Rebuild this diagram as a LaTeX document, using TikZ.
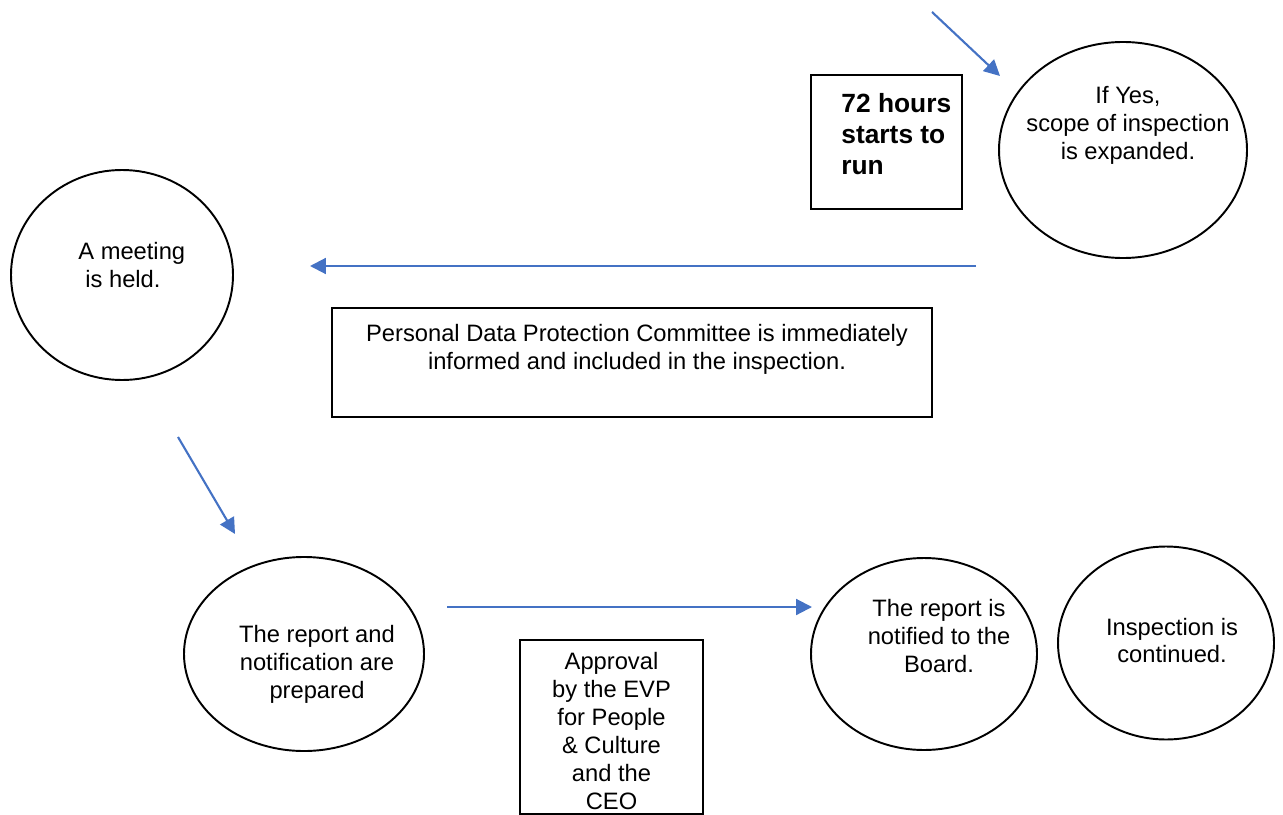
\documentclass[tikz,border=0pt]{standalone}
\usepackage{fontspec}
\setmainfont{Liberation Sans}
\usetikzlibrary{arrows.meta, shapes.geometric}
\definecolor{flowblue}{HTML}{4472C4}

\begin{document}
\begin{tikzpicture}[x=0.02cm, y=-0.02cm,
  box/.style={draw, rectangle, line width=1.1pt, inner sep=0pt},
  bubble/.style={draw, ellipse, line width=1.1pt, inner sep=0pt},
  txt/.style={font=\fontsize{13.5}{15.9}\selectfont, align=center, inner sep=0pt},
  flow/.style={draw=flowblue, line width=1.2pt, -{Triangle[length=9pt, width=9pt]}}
]
\useasboundingbox (0,0) rectangle (1283,814);

\node[bubble, minimum width=248*0.02cm, minimum height=216*0.02cm,
      label={[txt, xshift=0.1cm, yshift=0.5cm]center:{If Yes,\\ scope of inspection\\ is expanded.}}]
  (yes) at (1123,150) {};

\node[box, minimum width=151*0.02cm, minimum height=134*0.02cm,
      label={[txt, anchor=west, align=left, xshift=0.62cm, yshift=0.16cm,
              font=\fontsize{15}{17.6}\selectfont\bfseries]west:{72 hours\\ starts to\\ run}}]
  (hours) at (886.5,142) {};

\node[bubble, minimum width=222*0.02cm, minimum height=210*0.02cm,
      label={[txt, anchor=west, align=left, xshift=1.36cm, yshift=0.2cm]west:{A meeting\\ \hspace*{4pt}is held.}}]
  (meeting) at (122,275) {};

\node[box, minimum width=600*0.02cm, minimum height=109*0.02cm,
      label={[txt, xshift=0.1cm, yshift=0.27cm]center:{Personal Data Protection Committee is immediately\\ informed and included in the inspection.}}]
  (committee) at (632,362.5) {};

\node[bubble, minimum width=240*0.02cm, minimum height=194*0.02cm,
      label={[txt, xshift=0.26cm, yshift=-0.2cm]center:{The report and\\ notification are\\ prepared}}]
  (report) at (304,654) {};

\node[box, minimum width=183*0.02cm, minimum height=174*0.02cm,
      label={[txt, yshift=-0.08cm]center:{Approval\\ by the EVP\\ for People\\ \& Culture\\ and the\\ CEO}}]
  (approval) at (611.5,727) {};

\node[bubble, minimum width=226*0.02cm, minimum height=192*0.02cm,
      label={[txt, xshift=0.3cm, yshift=0.36cm]center:{The report is\\ notified to the\\ Board.}}]
  (board) at (924,654) {};

\node[bubble, minimum width=216*0.02cm, minimum height=193*0.02cm,
      label={[txt, xshift=0.12cm, yshift=0.05cm]center:{Inspection is\\ continued.}}]
  (continued) at (1166,643) {};

% arrow ends
\coordinate (yesin) at (932,12);
\coordinate (yestip) at (1000,76);
\coordinate (backin) at (976,266);
\coordinate (backtip) at (310,266);
\coordinate (downin) at (178,437);
\coordinate (downtip) at (235,534);
\coordinate (boardin) at (447,607);
\coordinate (boardtip) at (812,607);

\draw[flow] (yesin) -- (yestip);
\draw[flow] (backin) -- (backtip);
\draw[flow] (downin) -- (downtip);
\draw[flow] (boardin) -- (boardtip);
\end{tikzpicture}
\end{document}
